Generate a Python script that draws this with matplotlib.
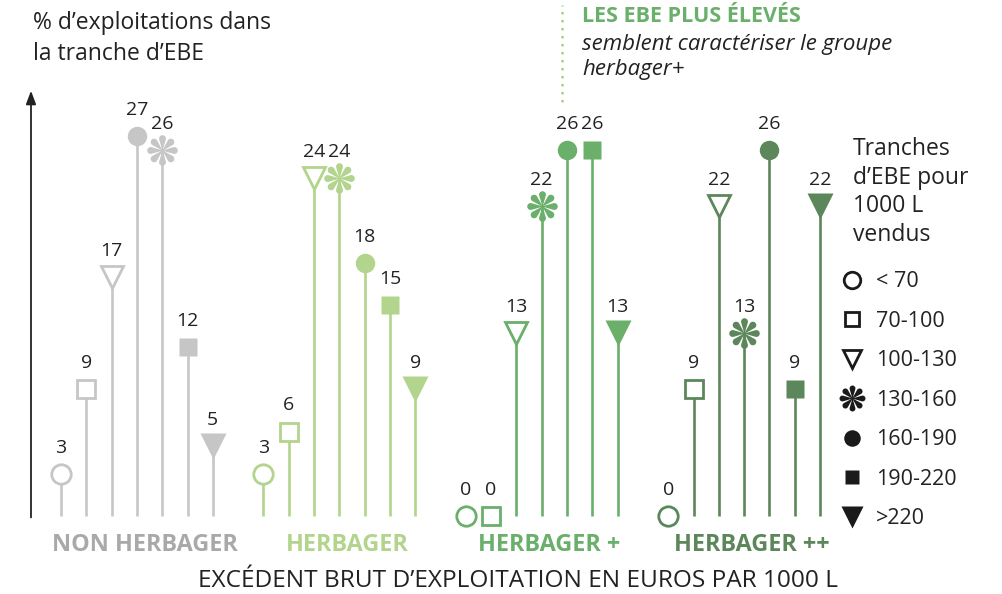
import numpy as np
import matplotlib.pyplot as plt
from matplotlib.path import Path
from matplotlib.lines import Line2D

plt.rcParams['font.family'] = ['Open Sans', 'DejaVu Sans']

groups = ['NON HERBAGER', 'HERBAGER', 'HERBAGER +', 'HERBAGER ++']
group_colors = ['#c6c6c6', '#b2d48c', '#6aaf6a', '#5c875a']
label_colors = ['#a9a9a9', '#b2d48c', '#6aaf6a', '#5c875a']
tranches = ['< 70', '70-100', '100-130', '130-160', '160-190', '190-220', '>220']

# marker kind for each stem, per group (order as drawn in the picture)
kinds = [
    ['o_open', 's_open', 'v_open', 'o', 'ast', 's', 'v'],
    ['o_open', 's_open', 'v_open', 'ast', 'o', 's', 'v'],
    ['o_open', 's_open', 'v_open', 'ast', 'o', 's', 'v'],
    ['o_open', 's_open', 'v_open', 'ast', 'o', 's', 'v'],
]
non_herbager = [3, 9, 17, 27, 26, 12, 5]
herbager = [3, 6, 24, 24, 18, 15, 9]
herbager_p = [0, 0, 13, 22, 26, 26, 13]
herbager_pp = [0, 9, 22, 13, 26, 9, 22]
values = [non_herbager, herbager, herbager_p, herbager_pp]


def flower_path(n=8, d=0.72, rc=0.21, r0=0.06):
    # one closed outline: thin petals with round tips
    verts = []
    step = 2 * np.pi / n
    for k in range(n):
        a = np.pi / 2 + k * step
        verts.append((r0 * np.cos(a - step / 2), r0 * np.sin(a - step / 2)))
        cx, cy = d * np.cos(a), d * np.sin(a)
        for t in np.linspace(-1.95, 1.95, 15):
            verts.append((cx + rc * np.cos(a + t), cy + rc * np.sin(a + t)))
    verts.append(verts[0])
    codes = [Path.MOVETO] + [Path.LINETO] * (len(verts) - 2) + [Path.CLOSEPOLY]
    return Path(verts, codes)


AST = flower_path()


def marker_style(kind, color):
    if kind == 'o_open':
        return dict(marker='o', ms=14, mfc='white', mec=color, mew=2)
    if kind == 's_open':
        return dict(marker='s', ms=12.5, mfc='white', mec=color, mew=2)
    if kind == 'v_open':
        return dict(marker='v', ms=16, mfc='white', mec=color, mew=2)
    if kind == 'ast':
        return dict(marker=AST, ms=22, mfc=color, mec='none')
    if kind == 'o':
        return dict(marker='o', ms=14, mfc=color, mec='none')
    if kind == 's':
        return dict(marker='s', ms=12.5, mfc=color, mec='none')
    return dict(marker='v', ms=19, mfc=color, mec='none')


fig = plt.figure(figsize=(10.02, 5.94), dpi=100)
ax = fig.add_axes([0, 0, 1, 1])
ax.set_xlim(-61 / 25.3, (1002 - 61) / 25.3)
ax.set_ylim((516 - 594) / 14.08, 516 / 14.08)
ax.axis('off')

gap = 8.0
for g, (vals, ks) in enumerate(zip(values, kinds)):
    col = group_colors[g]
    for i, (v, k) in enumerate(zip(vals, ks)):
        x = g * gap + i
        if v > 0:
            ax.vlines(x, 0, v, color=col, lw=1.9, zorder=1)
        ax.plot([x], [v], linestyle='none', zorder=3, **marker_style(k, col))
        ax.text(x, v + 1.85, str(v), ha='center', va='center', fontsize=14, color='#222222')
    ax.text(g * gap + 3.3, -2.05, groups[g], ha='center', va='center',
            fontsize=16.8, fontweight='bold', color=label_colors[g])

# vertical axis arrow
ax.annotate('', xy=(-1.186, 30.4), xytext=(-1.186, -0.3),
            arrowprops=dict(arrowstyle='-|>,head_length=0.8,head_width=0.3', color='#222222', lw=1.3))
ax.text(-1.1, 33.9, '% d’exploitations dans\nla tranche d’EBE', ha='left', va='center',
        fontsize=16.5, color='#222222', linespacing=1.42)

ax.text(18.06, -4.6, 'EXCÉDENT BRUT D’EXPLOITATION EN EUROS PAR 1000 L', ha='center', va='center',
        fontsize=17.6, color='#222222')

# annotation
ax.vlines(19.8, 29.4, 36.3, color='#a6d18a', lw=1.8, linestyles=(0, (1, 2.2)))
ax.text(20.6, 35.45, 'LES EBE PLUS ÉLEVÉS', ha='left', va='center', fontsize=15.5,
        fontweight='bold', color='#6aaf6a')
ax.text(20.6, 32.6, 'semblent caractériser le groupe\nherbager+', ha='left', va='center', fontsize=16,
        style='italic', color='#222222', linespacing=1.22)

# legend
ax.text(31.3, (516 - 137) / 14.08, 'Tranches\nd’EBE pour\n1000 L\nvendus', ha='left', va='top',
        fontsize=16.5, color='#222222', linespacing=1.255)
handles = [Line2D([], [], linestyle='none', **marker_style(k, '#1a1a1a')) for k in kinds[1]]
for h in handles:
    h.set_markersize(h.get_markersize() * 0.85)
leg = ax.legend(handles, tranches, loc='upper left', bbox_to_anchor=(826 / 1002, 1 - 254 / 594),
                frameon=False, fontsize=15.5, handlelength=0.8, handletextpad=0.73,
                labelspacing=0.86, borderpad=0.3)
for t in leg.get_texts():
    t.set_color('#222222')

fig.savefig('out.png', dpi=100)
